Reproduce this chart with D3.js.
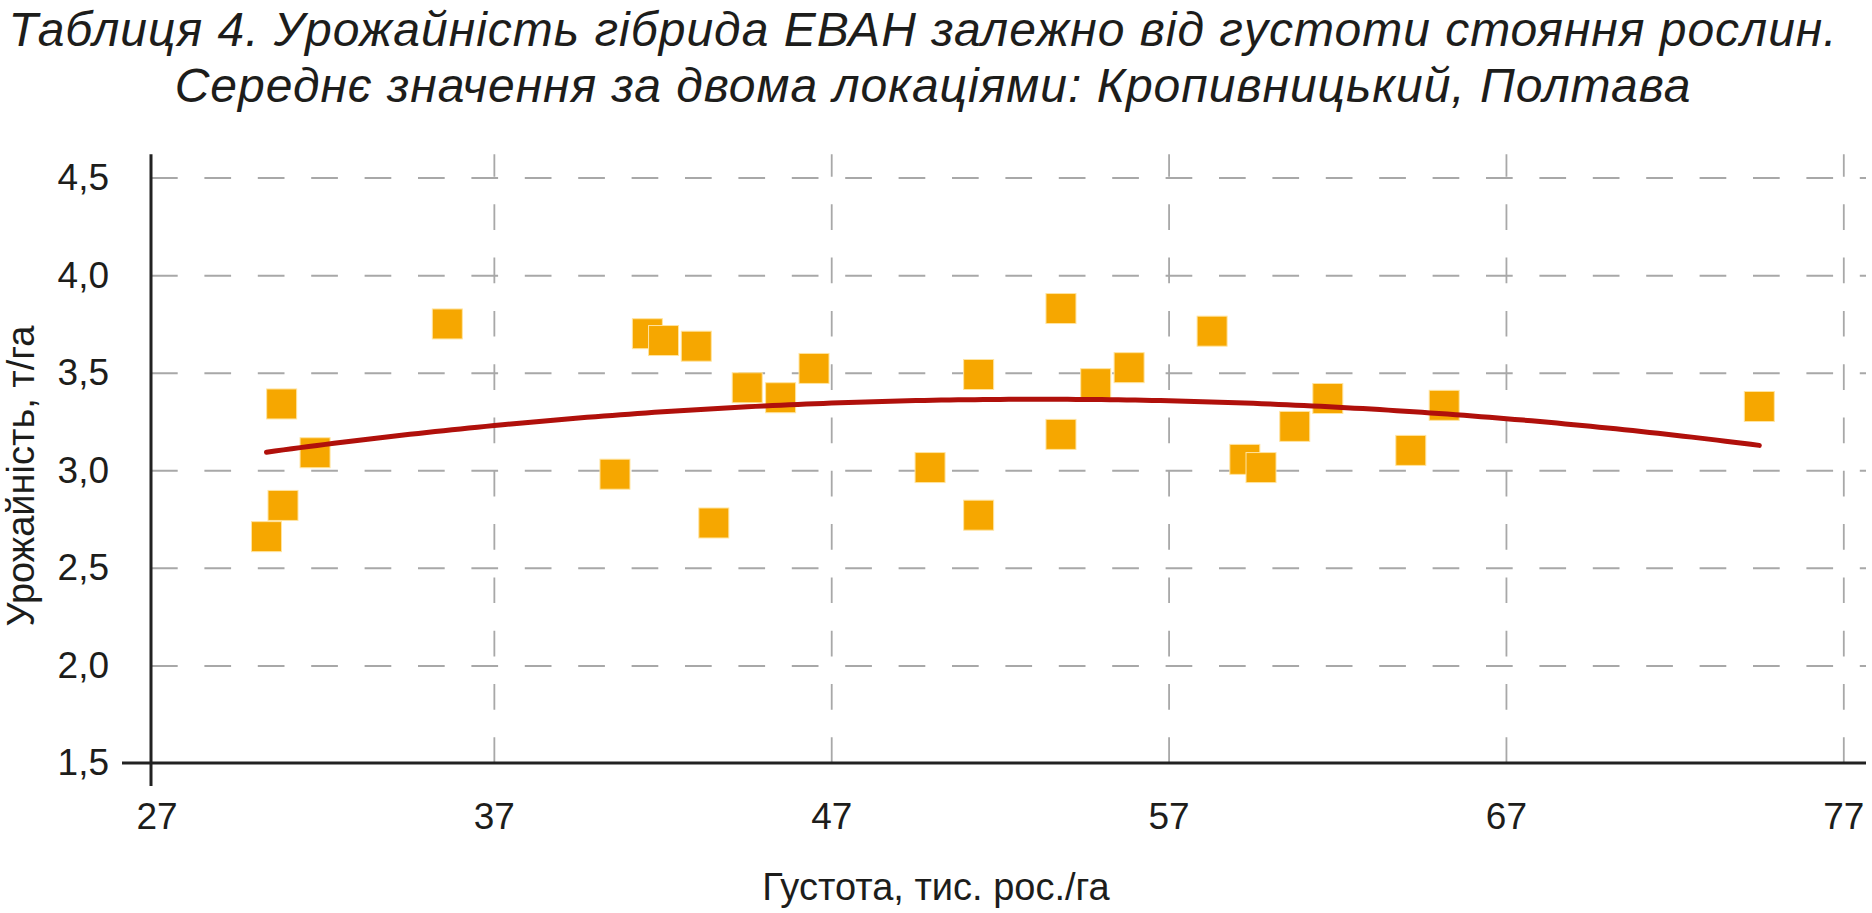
<!DOCTYPE html>
<html>
<head>
<meta charset="utf-8">
<script src="https://cdn.jsdelivr.net/npm/d3@7"></script>
<style>
  html, body { margin: 0; padding: 0; background: #ffffff; }
  svg { display: block; font-family: "Liberation Sans", Arial, sans-serif; }
</style>
</head>
<body>
<svg id="chart" width="1872" height="913"></svg>
<script>
// ---- data ----
const titleLines = [
  "Таблиця 4. Урожайність гібрида ЕВАН залежно від густоти стояння рослин.",
  "Середнє значення за двома локаціями: Кропивницький, Полтава"
];
const xTitle = "Густота, тис. рос./га";
const yTitle = "Урожайність, т/га";

const density = [30.26, 30.71, 30.75, 31.70, 35.62, 40.59, 41.55, 42.03, 43.00, 43.52,
                 44.51, 45.50, 46.49, 49.93, 51.37, 51.37, 53.81, 53.81, 54.84, 55.83,
                 58.29, 59.26, 59.74, 60.74, 61.72, 64.18, 65.17, 74.51];
const yieldT  = [2.66, 3.34, 2.82, 3.09, 3.75, 2.98, 3.70, 3.665, 3.636, 2.73,
                 3.423, 3.372, 3.522, 3.014, 3.491, 2.77, 3.829, 3.184, 3.444, 3.526,
                 3.713, 3.056, 3.014, 3.225, 3.368, 3.102, 3.333, 3.327];

const xTicks = [27, 37, 47, 57, 67, 77];
const yTicks = [1.5, 2.0, 2.5, 3.0, 3.5, 4.0, 4.5];
const xDomain = [27, 77];
const yDomain = [1.5, 4.5];
const yAxisTop = 4.62;

// ---- layout ----
const plotLeft = 151, plotRight = 1866;
const svg = d3.select("#chart");

const x = d3.scaleLinear().domain(xDomain).range([156.5, 1843.3]);
const y = d3.scaleLinear().domain(yDomain).range([763, 177.6]);

const fmt = d3.formatLocale({decimal: ",", thousands: " ", grouping: [3], currency: ["", ""]}).format(".1f");

// ---- title ----
const title = svg.append("text")
  .attr("text-anchor", "middle")
  .attr("font-style", "italic")
  .attr("font-size", 48)
  .attr("letter-spacing", 1)
  .attr("fill", "#1d1d1b");
title.selectAll("tspan").data(titleLines).join("tspan")
  .attr("x", (d, i) => i === 0 ? 923 : 933)
  .attr("y", (d, i) => 46 + i * 55.5)
  .text(d => d);

// ---- grid ----
const gridColor = "#a8a8a8";
const gx = svg.append("g")
  .attr("transform", `translate(0,${y(yDomain[0])})`)
  .call(d3.axisBottom(x).tickValues(xTicks.slice(1)).tickSize(-(y(yDomain[0]) - y(yAxisTop))).tickFormat(""));
gx.select(".domain").remove();
gx.selectAll(".tick line").attr("stroke", gridColor).attr("stroke-width", 1.8).attr("stroke-dasharray", "25.7 27.6");

const gy = svg.append("g")
  .attr("transform", `translate(${plotLeft},0)`)
  .call(d3.axisLeft(y).tickValues(yTicks.slice(1)).tickSize(-(plotRight - plotLeft)).tickFormat(""));
gy.select(".domain").remove();
gy.selectAll(".tick line").attr("stroke", gridColor).attr("stroke-width", 2).attr("stroke-dasharray", "26.7 26.7");

// ---- points ----
const pts = density.map((d, i) => ({x: d, y: yieldT[i]}));
const sq = 30;
svg.append("g").selectAll("rect").data(pts).join("rect")
  .attr("x", d => x(d.x) - sq / 2)
  .attr("y", d => y(d.y) - sq / 2)
  .attr("width", sq)
  .attr("height", sq)
  .attr("fill", "#f6a700")
  .attr("stroke", "#ffe4a0")
  .attr("stroke-width", 1);

// ---- polynomial (2nd order) trend line fitted to the points ----
function quadFit(xs, ys) {
  let n = xs.length, s1 = 0, s2 = 0, s3 = 0, s4 = 0, t0 = 0, t1 = 0, t2 = 0;
  for (let i = 0; i < n; i++) {
    const a = xs[i], b = ys[i];
    s1 += a; s2 += a * a; s3 += a * a * a; s4 += a * a * a * a;
    t0 += b; t1 += a * b; t2 += a * a * b;
  }
  const M = [[n, s1, s2, t0], [s1, s2, s3, t1], [s2, s3, s4, t2]];
  for (let c = 0; c < 3; c++) {
    for (let r = c + 1; r < 3; r++) {
      const f = M[r][c] / M[c][c];
      for (let k = c; k < 4; k++) M[r][k] -= f * M[c][k];
    }
  }
  const cf = [0, 0, 0];
  for (let r = 2; r >= 0; r--) {
    let s = M[r][3];
    for (let k = r + 1; k < 3; k++) s -= M[r][k] * cf[k];
    cf[r] = s / M[r][r];
  }
  return cf;
}
const coef = quadFit(density, yieldT);
const xMin = d3.min(density), xMax = d3.max(density);
const curve = d3.range(xMin, xMax, 0.25).concat([xMax]).map(v => ({x: v, y: coef[0] + coef[1] * v + coef[2] * v * v}));
svg.append("path")
  .datum(curve)
  .attr("fill", "none")
  .attr("stroke", "#b0100b")
  .attr("stroke-width", 5)
  .attr("stroke-linecap", "round")
  .attr("d", d3.line().x(d => x(d.x)).y(d => y(d.y)));

// ---- axes lines ----
const axisColor = "#222222";
svg.append("line")
  .attr("x1", plotLeft).attr("x2", plotLeft)
  .attr("y1", y(yAxisTop)).attr("y2", y(yDomain[0]) + 23)
  .attr("stroke", axisColor).attr("stroke-width", 3);
svg.append("line")
  .attr("x1", plotLeft - 29).attr("x2", plotRight)
  .attr("y1", y(yDomain[0])).attr("y2", y(yDomain[0]))
  .attr("stroke", axisColor).attr("stroke-width", 3);

// ---- tick labels ----
const ay = svg.append("g")
  .attr("transform", `translate(${plotLeft},0)`)
  .call(d3.axisLeft(y).tickValues(yTicks).tickSize(0).tickPadding(42).tickFormat(fmt));
ay.select(".domain").remove();
ay.selectAll("text").attr("font-size", 37).attr("font-family", "Liberation Sans, Arial, sans-serif").attr("fill", "#1d1d1b");

const ax = svg.append("g")
  .attr("transform", `translate(0,${y(yDomain[0])})`)
  .call(d3.axisBottom(x).tickValues(xTicks).tickSize(0).tickPadding(40).tickFormat(d3.format("d")));
ax.select(".domain").remove();
ax.selectAll("text").attr("font-size", 37).attr("font-family", "Liberation Sans, Arial, sans-serif").attr("fill", "#1d1d1b");

// ---- axis titles ----
svg.append("text")
  .attr("text-anchor", "middle")
  .attr("font-size", 38)
  .attr("fill", "#1d1d1b")
  .attr("transform", "translate(34,476) rotate(-90)")
  .text(yTitle);

svg.append("text")
  .attr("text-anchor", "middle")
  .attr("font-size", 38)
  .attr("fill", "#1d1d1b")
  .attr("x", 936)
  .attr("y", 900)
  .text(xTitle);
</script>
</body>
</html>
